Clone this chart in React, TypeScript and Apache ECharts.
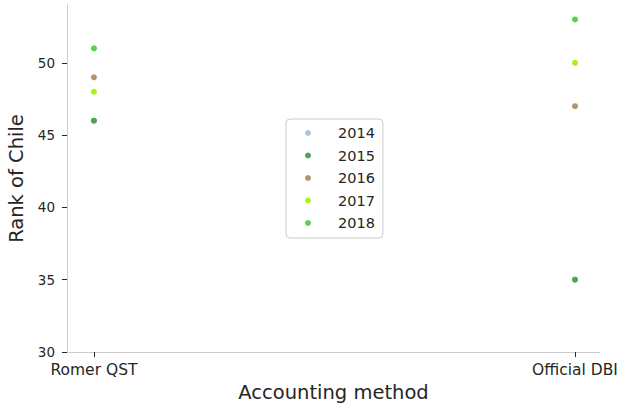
import React, { useEffect, useRef } from "react";
import * as echarts from "echarts";

const categories = ["Romer QST", "Official DBI"];
const years = ["2014", "2015", "2016", "2017", "2018"];
const colors = ["#adc3e0", "#4ea54e", "#b5966a", "#a8f218", "#5ad250"];
const values2014 = [46, 35];
const values2015 = [46, 35];
const values2016 = [49, 47];
const values2017 = [48, 50];
const values2018 = [51, 53];
const seriesValues = [values2014, values2015, values2016, values2017, values2018];
const yTicks = [30, 35, 40, 45, 50];

export default function App() {
  const ref = useRef<HTMLDivElement>(null);
  useEffect(() => {
    if (!ref.current) return;
    const chart = echarts.init(ref.current, null, { renderer: "svg" });
    const font = "DejaVu Sans";
    chart.setOption({
      animation: false,
      backgroundColor: "#ffffff",
      grid: {
        left: 67,
        right: 25,
        top: 5,
        bottom: 52,
        containLabel: false,
        outerBoundsMode: "none",
      },
      xAxis: {
        type: "value",
        min: -0.056,
        max: 1.052,
        name: "Accounting method",
        nameLocation: "middle",
        nameGap: 29,
        nameTextStyle: { fontFamily: font, fontSize: 19.5, color: "#262626" },
        axisLine: { show: true, onZero: false, lineStyle: { color: "#cccccc", width: 1 } },
        axisTick: { show: true, customValues: [0, 1], length: 5, lineStyle: { color: "#262626" } },
        axisLabel: {
          customValues: [0, 1],
          formatter: (v: number) => categories[Math.round(v)] ?? "",
          fontFamily: font,
          fontSize: 15.5,
          color: "#262626",
          margin: 10,
        },
        splitLine: { show: false },
      },
      yAxis: {
        type: "value",
        min: 30,
        max: 54,
        name: "Rank of Chile",
        nameLocation: "middle",
        nameGap: 35,
        nameTextStyle: { fontFamily: font, fontSize: 19.5, color: "#262626" },
        axisLine: { show: true, onZero: false, lineStyle: { color: "#cccccc", width: 1 } },
        axisTick: { show: true, customValues: yTicks, length: 5, lineStyle: { color: "#262626" } },
        axisLabel: {
          customValues: yTicks,
          fontFamily: font,
          fontSize: 13.5,
          color: "#262626",
          margin: 12,
        },
        splitLine: { show: false },
      },
      legend: {
        orient: "vertical",
        left: 286,
        top: 119,
        data: years,
        icon: "circle",
        itemWidth: 30,
        itemHeight: 6,
        itemGap: 6.5,
        padding: [6, 8, 7, 19],
        backgroundColor: "rgba(255,255,255,0.8)",
        borderColor: "#cccccc",
        borderWidth: 1,
        borderRadius: 4,
        textStyle: {
          fontFamily: font,
          fontSize: 14.5,
          color: "#262626",
          lineHeight: 16,
          padding: [0, 0, 0, 10],
        },
      },
      series: years.map((y, i) => ({
        name: y,
        type: "scatter",
        symbol: "circle",
        symbolSize: 6,
        itemStyle: { color: colors[i], opacity: 1 },
        data: seriesValues[i].map((v, j) => [j, v]),
      })),
    });
    return () => chart.dispose();
  }, []);
  return (
    <div
      ref={ref}
      style={{ position: "fixed", left: 0, top: 0, width: 625, height: 404 }}
    />
  );
}
